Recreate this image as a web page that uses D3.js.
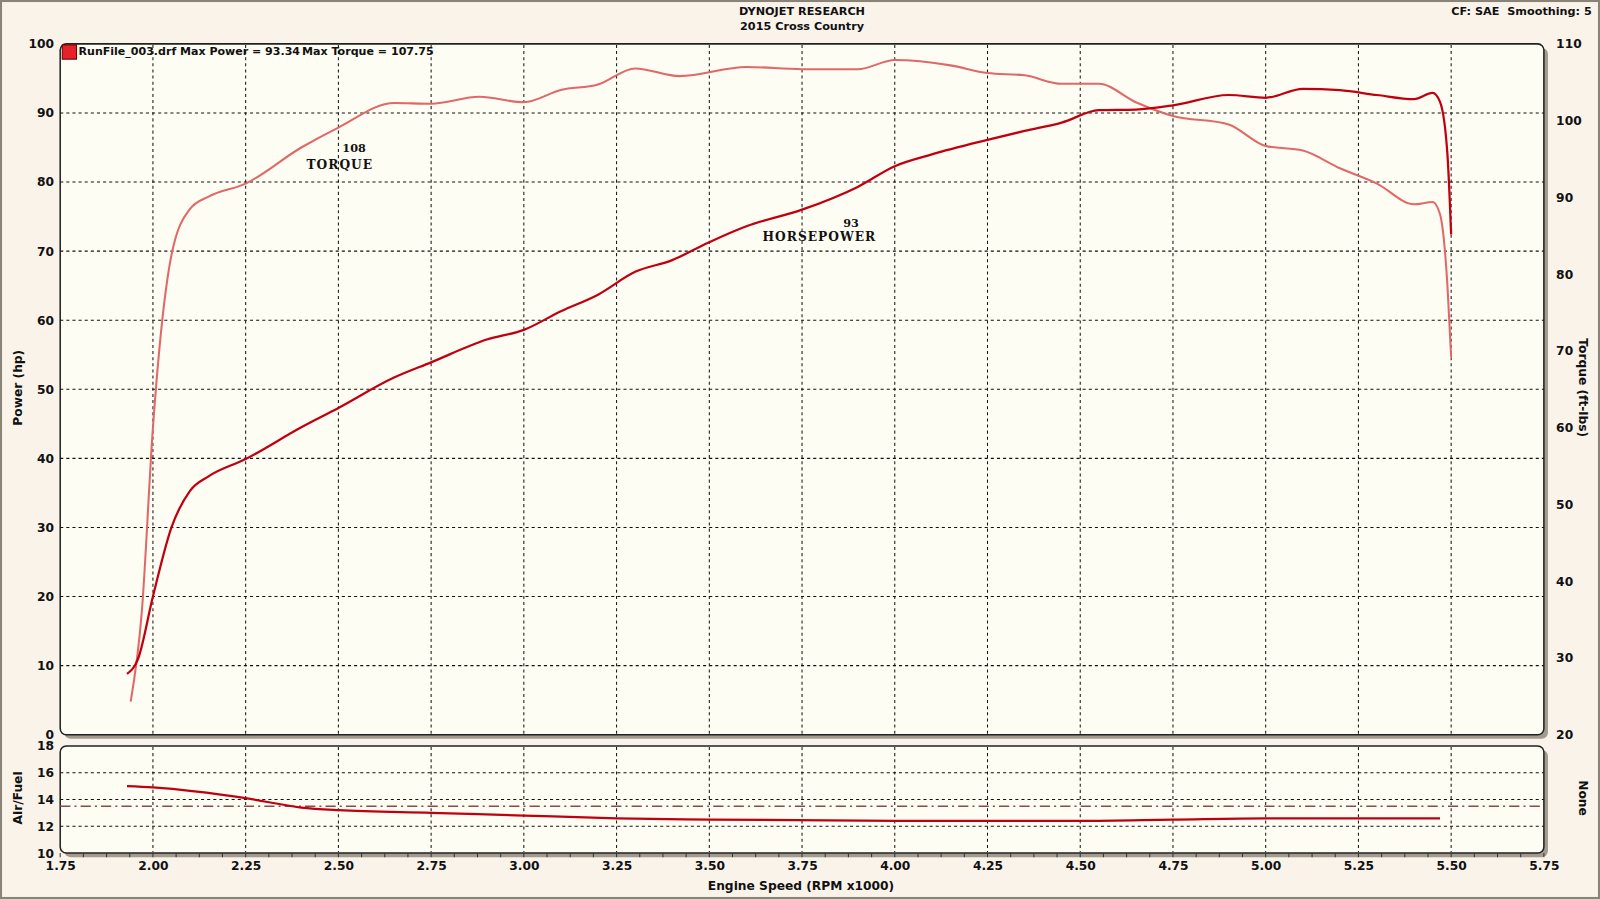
<!DOCTYPE html>
<html><head><meta charset="utf-8">
<script src="https://cdn.jsdelivr.net/npm/d3@7"></script>
<style>body{margin:0;background:#faf3ea;}svg{display:block;font-family:Verdana,"DejaVu Sans",sans-serif;font-weight:bold;}</style>
</head><body><svg></svg>
<script>
const powerRpm=[1.93,1.96,2.00,2.05,2.10,2.15,2.25,2.40,2.50,2.65,2.75,2.90,3.00,3.10,3.20,3.30,3.40,3.50,3.60,3.75,3.90,4.00,4.10,4.25,4.35,4.45,4.55,4.65,4.75,4.90,5.00,5.10,5.20,5.30,5.40,5.45,5.47,5.49,5.50];
const powerHp=[8.8,11,20,30,35.3,37.4,39.9,44.5,47.3,51.7,53.9,57.2,58.6,61.3,63.7,67,68.7,71.3,73.6,76,79.3,82.3,84,86.1,87.4,88.6,90.4,90.5,91.1,92.6,92.2,93.5,93.3,92.6,92.0,92.9,91.6,84,72.4];
const torqueRpm=[1.94,1.97,2.00,2.05,2.10,2.15,2.25,2.40,2.50,2.65,2.75,2.88,3.00,3.10,3.20,3.30,3.42,3.60,3.75,3.90,4.00,4.15,4.25,4.35,4.45,4.55,4.65,4.75,4.90,5.00,5.10,5.20,5.30,5.40,5.45,5.47,5.49,5.50];
const torqueFt=[24.3,36,60,82.5,88.5,90.1,91.8,96.5,99.1,102.3,102.2,103.1,102.4,104,104.7,106.8,105.8,107,106.7,106.7,107.9,107.2,106.2,105.9,104.8,104.8,102.4,100.6,99.5,96.7,96.1,93.8,91.8,89.1,89.4,87.8,78.5,69.2];
const afrRpm=[1.93,2.00,2.25,2.40,2.50,2.75,3.00,3.25,3.50,4.00,4.50,4.75,5.00,5.25,5.47];
const afr=[15.0,14.9,14.1,13.4,13.2,13.0,12.8,12.6,12.5,12.4,12.4,12.5,12.6,12.6,12.6];
const xTicks=[1.75,2.00,2.25,2.50,2.75,3.00,3.25,3.50,3.75,4.00,4.25,4.50,4.75,5.00,5.25,5.50,5.75];

const W=1568,H=881,L=59,R=1513;
const svg=d3.select('svg').attr('width',1600).attr('height',899).attr('viewBox',`0 0 ${W} ${H}`).attr('preserveAspectRatio','none');
svg.append('rect').attr('x',1).attr('y',1).attr('width',1566).attr('height',879).attr('fill','#faf3ea').attr('stroke','#8a8478').attr('stroke-width',2);
const x=d3.scaleLinear().domain([1.75,5.75]).range([L,R]);
const yP=d3.scaleLinear().domain([0,100]).range([720,43]);
const yT=d3.scaleLinear().domain([20,110]).range([720,43]);
const yA=d3.scaleLinear().domain([10,18]).range([836,731]);

function panel(top,bot){
  svg.append('rect').attr('x',L+4).attr('y',top+4).attr('width',R-L).attr('height',bot-top).attr('rx',6).attr('fill','#a39a90');
  svg.append('rect').attr('x',L).attr('y',top).attr('width',R-L).attr('height',bot-top).attr('rx',6).attr('fill','#fefdf3').attr('stroke','#222').attr('stroke-width',1.5);
}
panel(43,720);panel(731,836);

const grid=(x1,x2,y1,y2)=>svg.append('line').attr('x1',x1).attr('x2',x2).attr('y1',y1).attr('y2',y2).attr('stroke','#111').attr('stroke-dasharray','3,3');
xTicks.slice(1,-1).forEach(t=>{grid(x(t),x(t),44,719);grid(x(t),x(t),732,835);});
d3.range(10,100,10).forEach(v=>grid(L,R,yP(v),yP(v)));
[12,14,16].forEach(v=>grid(L,R,yA(v),yA(v)));
svg.append('line').attr('x1',L).attr('x2',R).attr('y1',yA(13.5)).attr('y2',yA(13.5)).attr('stroke','#8a4a4a').attr('stroke-width',1.5).attr('stroke-dasharray','10,4,2,4');

svg.append('g').attr('transform',`translate(${L},0)`).call(d3.axisLeft(yP).tickValues(d3.range(0,101,10)).tickSize(0).tickPadding(6)).call(g=>g.select('.domain').remove());
svg.append('g').attr('transform',`translate(${L},0)`).call(d3.axisLeft(yA).tickValues([10,12,14,16,18]).tickSize(0).tickPadding(6)).call(g=>g.select('.domain').remove());
svg.append('g').attr('transform',`translate(${R+4},0)`).call(d3.axisRight(yT).tickValues(d3.range(20,111,10)).tickSize(0).tickPadding(8)).call(g=>g.select('.domain').remove());
svg.append('g').attr('transform','translate(0,840)').call(d3.axisBottom(x).tickValues(xTicks).tickFormat(d3.format('.2f')).tickSize(0).tickPadding(4)).call(g=>g.select('.domain').remove());
svg.selectAll('.tick text').attr('font-size',12).attr('font-weight','bold').attr('font-family','Verdana,"DejaVu Sans",sans-serif').attr('fill','#111');
d3.range(1.75,5.751,0.0625).forEach(t=>svg.append('line').attr('x1',x(t)).attr('x2',x(t)).attr('y1',836).attr('y2',840).attr('stroke','#333'));

const line=(xs,ys,yscale)=>d3.line().curve(d3.curveMonotoneX).x((d,i)=>x(xs[i])).y(d=>yscale(d))(ys);
svg.append('path').attr('d',line(torqueRpm,torqueFt,yT)).attr('fill','none').attr('stroke','#e06868').attr('stroke-width',2);
svg.append('path').attr('d',line(powerRpm,powerHp,yP)).attr('fill','none').attr('stroke','#c00010').attr('stroke-width',2.2);
svg.append('path').attr('d',line(afrRpm,afr,yA)).attr('fill','none').attr('stroke','#c00010').attr('stroke-width',2.2);

const txt=(s,px,py,o={})=>svg.append('text').attr('x',px).attr('y',py).attr('font-size',o.fs||12).attr('text-anchor',o.a||'middle').attr('font-family',o.ff||'Verdana,"DejaVu Sans",sans-serif').attr('font-weight','bold').attr('fill','#111').attr('letter-spacing',o.ls||0).attr('transform',o.rot?`rotate(${o.rot},${px},${py})`:null).text(s);
txt('DYNOJET RESEARCH',786,15,{fs:11});
txt('2015 Cross Country',786,29,{fs:11});
txt('CF: SAE  Smoothing: 5',1560,15,{fs:11,a:'end'}).attr('xml:space','preserve');
txt('Engine Speed (RPM x1000)',785,872,{fs:12});
txt('Power (hp)',22,380,{rot:-90});
txt('Torque (ft-lbs)',1547,380,{rot:90});
txt('Air/Fuel',22,782,{rot:-90});
txt('None',1547,782,{rot:90});
svg.append('rect').attr('x',61).attr('y',44).attr('width',14).attr('height',14).attr('fill','#e8202a').attr('stroke','#600');
txt('RunFile_003.drf Max Power = 93.34',77,54,{a:'start',fs:11}).attr('textLength',217).attr('lengthAdjust','spacingAndGlyphs');
txt('Max Torque = 107.75',296,54,{a:'start',fs:11}).attr('textLength',129).attr('lengthAdjust','spacingAndGlyphs');
const serif='"DejaVu Serif","Liberation Serif",serif';
txt('108',347,149,{ff:serif,fs:11});
txt('TORQUE',333,166,{ff:serif,fs:12,ls:1});
txt('93',834,222,{ff:serif,fs:11});
txt('HORSEPOWER',803,236,{ff:serif,fs:12,ls:1});
</script></body></html>
